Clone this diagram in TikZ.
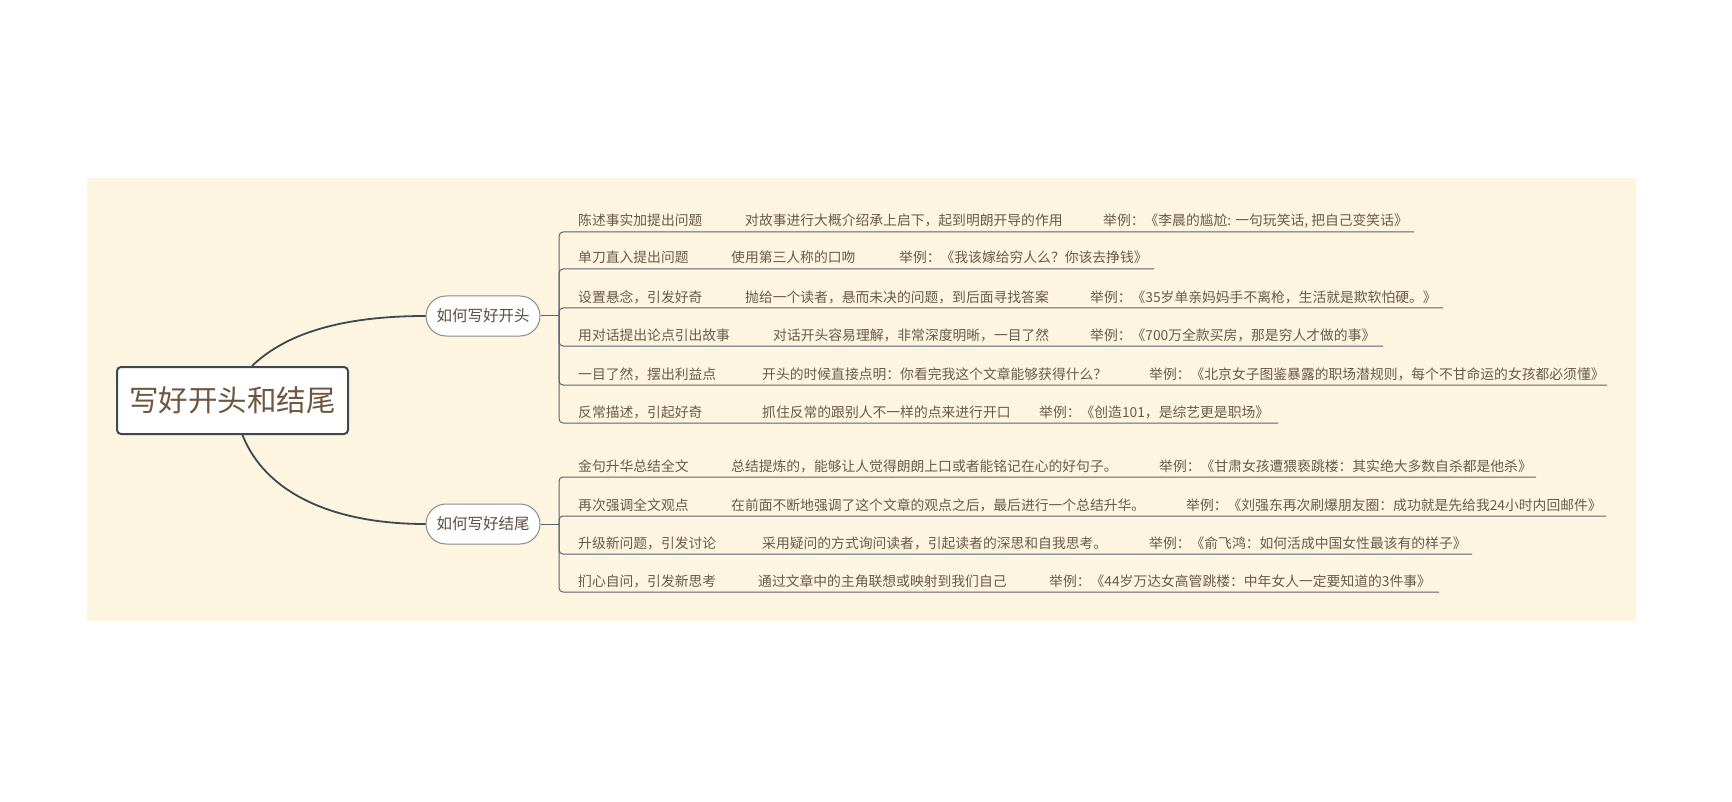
\documentclass[tikz,border=0pt]{standalone}
\usepackage{fontspec}
\newfontfamily\cjk{Noto Sans CJK SC}
\definecolor{bgc}{HTML}{FDF5E0}
\definecolor{darkline}{HTML}{3C4852}
\definecolor{leafline}{HTML}{5A6470}
\definecolor{branchborder}{HTML}{8C8C8C}
\definecolor{roottext}{HTML}{6E5640}
\definecolor{branchtext}{HTML}{5E4E3E}
\definecolor{leaftext}{HTML}{6A5A4A}
\tikzset{
  rootbox/.style={draw=darkline, line width=2pt, fill=white, rounded corners=4pt,
    minimum width=231pt, minimum height=67pt, inner sep=0pt,
    font=\cjk\fontsize{29.5}{32}\selectfont, text=roottext},
  branchbox/.style={draw=branchborder, line width=1pt, fill=white, rounded corners=20pt,
    minimum width=114pt, minimum height=40pt, inner sep=0pt,
    font=\cjk\fontsize{15.5}{18}\selectfont, text=branchtext},
  mainconn/.style={draw=darkline, line width=1.8pt},
  leafconn/.style={draw=leafline, line width=1pt, rounded corners=4pt},
  leaflabel/.style={anchor=base west, inner sep=0pt,
    font=\cjk\fontsize{13.8}{16}\selectfont, text=leaftext}
}
\newcommand\leafrow[9]{%
  \coordinate (#1e) at (#4,#3);
  \draw[leafconn] (#2) |- (#1e);
  \node[leaflabel] (#1a) at (578,#3-6) {#5};
  \node[leaflabel] (#1b) at (#6,#3-6) {#7};
  \node[leaflabel] (#1c) at (#8,#3-6) {#9};
}
\begin{document}
\begin{tikzpicture}[x=1pt,y=-1pt]
\useasboundingbox (0,0) rectangle (1732,802);
\fill[bgc] (87,178) rectangle (1636,621);

\node[rootbox] (root) at (232.5,400.5) {写好开头和结尾};
\node[branchbox] (b1) at (483,316) {如何写好开头};
\node[branchbox] (b2) at (483,524) {如何写好结尾};

\draw[mainconn] ([xshift=19.5pt]root.north) .. controls +(28,-27) and +(-96,0) .. (b1.west);
\draw[mainconn] ([xshift=10pt]root.south) .. controls +(22,56) and +(-96,0) .. (b2.west);

\coordinate (j1) at (559,316);
\coordinate (j2) at (559,524);
\draw[leafconn] (b1.east) -- (j1);
\draw[leafconn] (b2.east) -- (j2);

\leafrow{p1}{j1}{232}{1414}{陈述事实加提出问题}{745}{对故事进行大概介绍承上启下，起到明朗开导的作用}{1103}{举例：《李晨的尴尬: 一句玩笑话, 把自己变笑话》}
\leafrow{p2}{j1}{269}{1154}{单刀直入提出问题}{731}{使用第三人称的口吻}{899}{举例：《我该嫁给穷人么？你该去挣钱》}
\leafrow{p3}{j1}{308}{1443}{设置悬念，引发好奇}{745}{抛给一个读者，悬而未决的问题，到后面寻找答案}{1090}{举例：《35岁单亲妈妈手不离枪，生活就是欺软怕硬。》}
\leafrow{p4}{j1}{346}{1383}{用对话提出论点引出故事}{773}{对话开头容易理解，非常深度明晰，一目了然}{1090}{举例：《700万全款买房，那是穷人才做的事》}
\leafrow{p5}{j1}{385}{1607}{一目了然，摆出利益点}{762}{开头的时候直接点明：你看完我这个文章能够获得什么？}{1149}{举例：《北京女子图鉴暴露的职场潜规则，每个不甘命运的女孩都必须懂》}
\leafrow{p6}{j1}{423}{1278}{反常描述，引起好奇}{762}{抓住反常的跟别人不一样的点来进行开口}{1039}{举例：《创造101，是综艺更是职场》}

\leafrow{q1}{j2}{477}{1536}{金句升华总结全文}{731}{总结提炼的，能够让人觉得朗朗上口或者能铭记在心的好句子。}{1159}{举例：《甘肃女孩遭猥亵跳楼：其实绝大多数自杀都是他杀》}
\leafrow{q2}{j2}{516}{1606}{再次强调全文观点}{731}{在前面不断地强调了这个文章的观点之后，最后进行一个总结升华。}{1186}{举例：《刘强东再次刷爆朋友圈：成功就是先给我24小时内回邮件》}
\leafrow{q3}{j2}{554}{1472}{升级新问题，引发讨论}{762}{采用疑问的方式询问读者，引起读者的深思和自我思考。}{1149}{举例：《俞飞鸿：如何活成中国女性最该有的样子》}
\leafrow{q4}{j2}{592}{1439}{扪心自问，引发新思考}{758}{通过文章中的主角联想或映射到我们自己}{1049}{举例：《44岁万达女高管跳楼：中年女人一定要知道的3件事》}
\end{tikzpicture}
\end{document}
